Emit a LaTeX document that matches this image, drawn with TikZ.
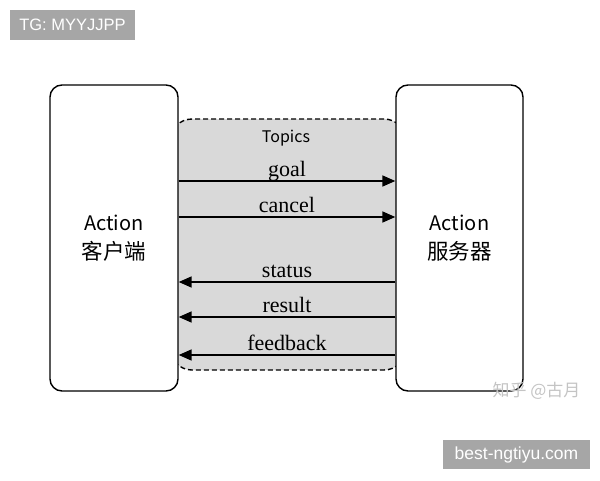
\documentclass[tikz,border=0pt]{standalone}
\usepackage{fontspec}
\setmainfont{Liberation Serif}
\newfontfamily\cjk{Noto Sans CJK SC}
\newfontfamily\helv{Liberation Sans}
\usetikzlibrary{arrows.meta}
\definecolor{topicgray}{HTML}{D9D9D9}
\definecolor{taggray}{HTML}{A6A6A6}
\definecolor{wmgray}{HTML}{C4C4C4}
\begin{document}
\begin{tikzpicture}[x=1pt,y=-1pt,
  actor/.style={draw, fill=white, rounded corners=12pt, line width=1.4pt, inner sep=0,
    minimum height=306pt, align=center, font=\cjk\fontsize{20}{29}\selectfont},
  arr/.style={-{Triangle[length=13pt,width=11pt]}, line width=1.7pt},
  lbl/.style={midway, anchor=base, yshift=5pt, inner sep=0, font=\fontsize{22}{24}\selectfont},
  tag/.style={fill=taggray, text=white, inner sep=0}]
\useasboundingbox (0,0) rectangle (600,480);
\node[draw, dashed, dash pattern=on 5pt off 3pt, fill=topicgray, rounded corners=22pt,
  minimum width=236pt, minimum height=251pt, inner sep=0, line width=1.4pt] (topics) at (288,244.5) {};
\node[font=\cjk\fontsize{16}{18}\selectfont] (tlabel) at (286,138) {Topics};
\node[actor, minimum width=128pt] (client) at (114,238) {Action\\{\fontsize{21.5}{29}\selectfont 客户端}};
\node[actor, minimum width=127pt] (server) at (459.5,238) {Action\\{\fontsize{21.5}{29}\selectfont 服务器}};
\draw[arr] (client.east |- 0,181) -- (server.west |- 0,181) node[lbl] {goal};
\draw[arr] (client.east |- 0,217) -- (server.west |- 0,217) node[lbl] {cancel};
\draw[arr] (server.west |- 0,282) -- (client.east |- 0,282) node[lbl] {status};
\draw[arr] (server.west |- 0,317) -- (client.east |- 0,317) node[lbl] {result};
\draw[arr] (server.west |- 0,355) -- (client.east |- 0,355) node[lbl] {feedback};
\node[tag, font=\helv\fontsize{16.5}{18}\selectfont, minimum width=125pt, minimum height=30pt] (tg) at (72.5,25) {TG: MYYJJPP};
\node[tag, font=\helv\fontsize{17.5}{20}\selectfont, minimum width=147pt, minimum height=29pt] (site) at (516.5,454.5) {best-ngtiyu.com};
\node[text=wmgray, font=\cjk\fontsize{17}{20}\selectfont, inner sep=0] (wm) at (536.5,391) {知乎 @古月};
\end{tikzpicture}
\end{document}
